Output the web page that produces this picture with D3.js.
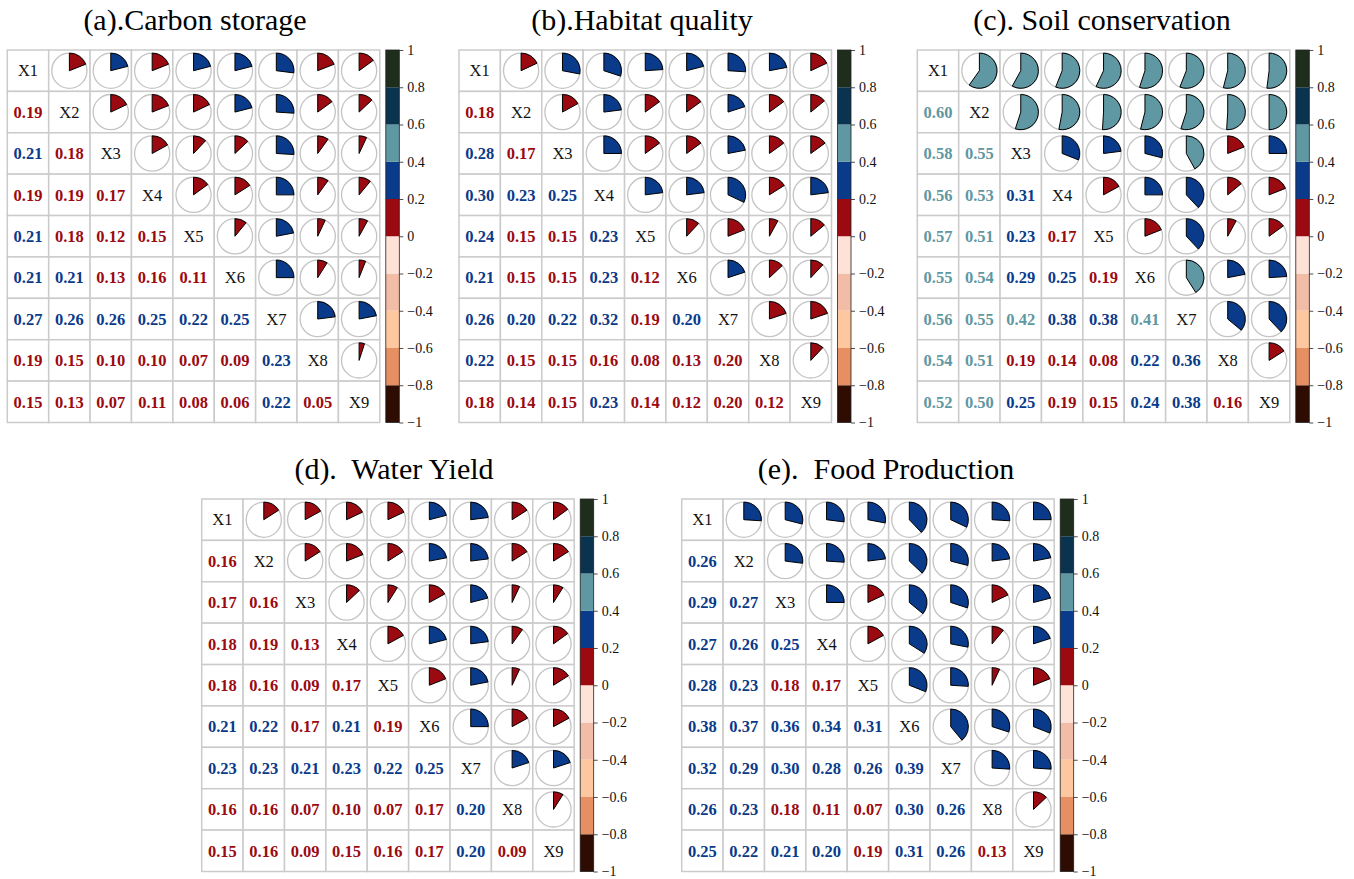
<!DOCTYPE html>
<html>
<head>
<meta charset="utf-8">
<script src="https://cdn.jsdelivr.net/npm/d3@7"></script>
<style>
  html, body { margin: 0; padding: 0; background: #fff; }
  svg { display: block; }
</style>
</head>
<body>
<svg id="chart" width="1354" height="879" font-family="'Liberation Serif', 'DejaVu Serif', Times, serif"></svg>
<script>
// Variable names on the diagonal
const variables = ["X1", "X2", "X3", "X4", "X5", "X6", "X7", "X8", "X9"];

// Panel titles
const panelTitles = [
  "(a).Carbon storage",
  "(b).Habitat quality",
  "(c). Soil conservation",
  "(d).  Water Yield",
  "(e).  Food Production"
];

// Lower-triangle correlation coefficients, row Xi holds (Xi, X1..X(i-1))
const carbonStorage = [
  [0.19],
  [0.21, 0.18],
  [0.19, 0.19, 0.17],
  [0.21, 0.18, 0.12, 0.15],
  [0.21, 0.21, 0.13, 0.16, 0.11],
  [0.27, 0.26, 0.26, 0.25, 0.22, 0.25],
  [0.19, 0.15, 0.10, 0.10, 0.07, 0.09, 0.23],
  [0.15, 0.13, 0.07, 0.11, 0.08, 0.06, 0.22, 0.05]
];
const habitatQuality = [
  [0.18],
  [0.28, 0.17],
  [0.30, 0.23, 0.25],
  [0.24, 0.15, 0.15, 0.23],
  [0.21, 0.15, 0.15, 0.23, 0.12],
  [0.26, 0.20, 0.22, 0.32, 0.19, 0.20],
  [0.22, 0.15, 0.15, 0.16, 0.08, 0.13, 0.198],
  [0.18, 0.14, 0.15, 0.23, 0.14, 0.12, 0.198, 0.12]
];
const soilConservation = [
  [0.598],
  [0.58, 0.55],
  [0.56, 0.53, 0.31],
  [0.57, 0.51, 0.23, 0.17],
  [0.55, 0.54, 0.29, 0.25, 0.19],
  [0.56, 0.55, 0.42, 0.38, 0.38, 0.41],
  [0.54, 0.51, 0.19, 0.14, 0.08, 0.22, 0.36],
  [0.52, 0.50, 0.25, 0.19, 0.15, 0.24, 0.38, 0.16]
];
const waterYield = [
  [0.16],
  [0.17, 0.16],
  [0.18, 0.19, 0.13],
  [0.18, 0.16, 0.09, 0.17],
  [0.21, 0.22, 0.17, 0.21, 0.19],
  [0.23, 0.23, 0.21, 0.23, 0.22, 0.25],
  [0.16, 0.16, 0.07, 0.10, 0.07, 0.17, 0.20],
  [0.15, 0.16, 0.09, 0.15, 0.16, 0.17, 0.20, 0.09]
];
const foodProduction = [
  [0.26],
  [0.29, 0.27],
  [0.27, 0.26, 0.25],
  [0.28, 0.23, 0.18, 0.17],
  [0.38, 0.37, 0.36, 0.34, 0.31],
  [0.32, 0.29, 0.30, 0.28, 0.26, 0.39],
  [0.26, 0.23, 0.18, 0.11, 0.07, 0.30, 0.26],
  [0.25, 0.22, 0.21, 0.20, 0.19, 0.31, 0.26, 0.13]
];

// Colour bar tick values
const colorbarTicks = [-1, -0.8, -0.6, -0.4, -0.2, 0, 0.2, 0.4, 0.6, 0.8, 1];

const panelData = [carbonStorage, habitatQuality, soilConservation, waterYield, foodProduction];

// Discrete diverging palette, one colour per 0.2 bin from -1 to 1
const binColors = ["#2e0c02", "#e58f62", "#fdc7a0", "#f2bda6", "#fee2d8",
                   "#9b0a10", "#0a3a8a", "#5f97a2", "#0a3350", "#1f2d1c"];
const color = d3.scaleThreshold()
  .domain(colorbarTicks.slice(1, -1))
  .range(binColors);

// Placement of each panel (grid top-left, title centre)
const layout = [
  { x: 7.3,   y: 50,  tx: 195 },
  { x: 459,   y: 50,  tx: 642 },
  { x: 917.3, y: 50,  tx: 1102 },
  { x: 201.7, y: 499, tx: 394 },
  { x: 681.7, y: 499, tx: 886 }
];
const gridSize = 372.5;
const pieRadius = 17.6;
const cbWidth = 13.5;
const cbGap = 6;
const serif = "'Liberation Serif', 'DejaVu Serif', Times, serif";

const svg = d3.select("#chart");
const fmtTick = d3.format("~g");
const arc = d3.arc().innerRadius(0).outerRadius(pieRadius).startAngle(0);

panelData.forEach((lower, p) => {
  const L = layout[p];
  const n = variables.length;
  const value = (i, j) => (i > j ? lower[i - 1][j] : lower[j - 1][i]);

  const x = d3.scaleBand().domain(variables).range([L.x, L.x + gridSize]);
  const y = d3.scaleBand().domain(variables).range([L.y, L.y + gridSize]);
  const bw = x.bandwidth();

  const g = svg.append("g").attr("font-family", serif);

  // Title
  g.append("text")
    .attr("x", L.tx)
    .attr("y", L.y - 20)
    .attr("text-anchor", "middle")
    .attr("font-size", 30)
    .attr("xml:space", "preserve")
    .style("white-space", "pre")
    .attr("fill", "#000")
    .text(panelTitles[p]);

  const cells = [];
  for (let i = 0; i < n; i++) {
    for (let j = 0; j < n; j++) {
      cells.push({ i, j, v: i === j ? null : value(i, j) });
    }
  }

  // Cell backgrounds and grid
  g.selectAll("rect.cell")
    .data(cells)
    .join("rect")
    .attr("class", "cell")
    .attr("x", d => x(variables[d.j]))
    .attr("y", d => y(variables[d.i]))
    .attr("width", bw)
    .attr("height", bw)
    .attr("fill", "#fff")
    .attr("stroke", "#cbcbcb")
    .attr("stroke-width", 1.5);

  // Diagonal variable names
  g.selectAll("text.diag")
    .data(cells.filter(d => d.i === d.j))
    .join("text")
    .attr("class", "diag")
    .attr("x", d => x(variables[d.j]) + bw / 2)
    .attr("y", d => y(variables[d.i]) + bw / 2)
    .attr("dy", "0.35em")
    .attr("text-anchor", "middle")
    .attr("font-size", 16.5)
    .attr("fill", "#111")
    .text(d => variables[d.i]);

  // Lower triangle: coefficient values
  g.selectAll("text.val")
    .data(cells.filter(d => d.i > d.j))
    .join("text")
    .attr("class", "val")
    .attr("x", d => x(variables[d.j]) + bw / 2)
    .attr("y", d => y(variables[d.i]) + bw / 2)
    .attr("dy", "0.35em")
    .attr("text-anchor", "middle")
    .attr("font-size", 16.5)
    .attr("font-weight", "bold")
    .attr("fill", d => color(d.v))
    .text(d => d.v.toFixed(2));

  // Upper triangle: pies
  const upper = cells.filter(d => d.i < d.j);
  const pies = g.selectAll("g.pie")
    .data(upper)
    .join("g")
    .attr("class", "pie")
    .attr("transform", d => `translate(${x(variables[d.j]) + bw / 2},${y(variables[d.i]) + bw / 2})`);

  pies.append("circle")
    .attr("r", pieRadius)
    .attr("fill", "#fff")
    .attr("stroke", "#c4c4c4")
    .attr("stroke-width", 1.3);

  pies.append("path")
    .attr("d", d => arc({ endAngle: d.v * 2 * Math.PI }))
    .attr("fill", d => color(d.v))
    .attr("stroke", "#000")
    .attr("stroke-width", 1)
    .attr("stroke-linejoin", "round");

  // Colour bar
  const cbX = L.x + gridSize + cbGap;
  const cy = d3.scaleLinear().domain([-1, 1]).range([L.y + gridSize, L.y]);
  const bins = d3.range(binColors.length).map(k => ({ lo: colorbarTicks[k], hi: colorbarTicks[k + 1] }));

  g.selectAll("rect.bin")
    .data(bins)
    .join("rect")
    .attr("class", "bin")
    .attr("x", cbX)
    .attr("y", d => cy(d.hi))
    .attr("width", cbWidth)
    .attr("height", d => cy(d.lo) - cy(d.hi))
    .attr("fill", d => color((d.lo + d.hi) / 2));

  g.append("rect")
    .attr("x", cbX)
    .attr("y", L.y)
    .attr("width", cbWidth)
    .attr("height", gridSize)
    .attr("fill", "none")
    .attr("stroke", "#222")
    .attr("stroke-width", 0.8);

  const axis = d3.axisRight(cy)
    .tickValues(colorbarTicks)
    .tickFormat(fmtTick)
    .tickSize(4)
    .tickPadding(4);

  const ag = g.append("g")
    .attr("transform", `translate(${cbX + cbWidth},0)`)
    .call(axis)
    .attr("font-family", serif)
    .attr("font-size", 14);
  ag.select(".domain").remove();
  ag.selectAll(".tick line").attr("stroke", "#222").attr("stroke-width", 0.8);
  ag.selectAll(".tick text").attr("fill", "#111");
});
</script>
</body>
</html>
